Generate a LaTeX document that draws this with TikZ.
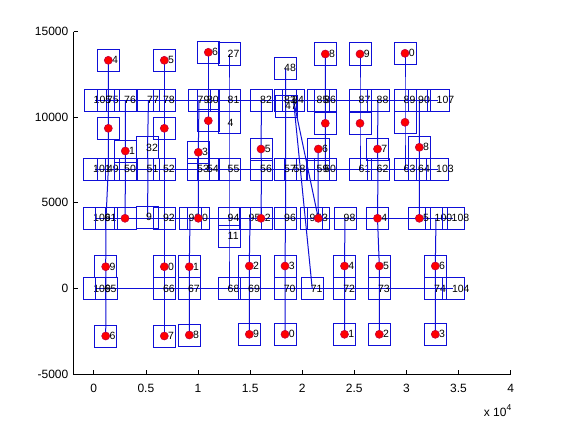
\documentclass[tikz,border=0pt]{standalone}
\usepackage{fontspec}
\setmainfont{Liberation Sans}
\usetikzlibrary{calc}
\pgfdeclarelayer{bg}
\pgfdeclarelayer{paper}
\pgfsetlayers{paper,bg,main}
\definecolor{mb}{RGB}{15,15,215}
\tikzset{
  bx/.style={draw=mb, line width=1pt, minimum width=22pt, minimum height=22pt, inner sep=0pt, outer sep=0pt},
  lab/.style={anchor=west, inner sep=0pt, font=\fontsize{10.5}{10.5}\selectfont},
  dotst/.style={circle, fill=red, draw=red!75!blue, line width=0.6pt, minimum size=8pt, inner sep=0pt},
  lnk/.style={draw=mb, line width=1pt},
  axl/.style={draw=black, line width=0.7pt},
  tk/.style={font=\fontsize{12}{12}\selectfont, inner sep=0pt}
}
\newcommand\RowN[4]{\node[bx] (#1) at (#2,#3) {}; \node[lab] (#1t) at (#2-1.5,#3) {#4};}
\newcommand\DotN[4]{\node[bx] (#1) at (#2,#3) {}; \node[lab] (#1t) at (#2+3.6,#3) {#4};}
\begin{document}
\begin{tikzpicture}[x=1pt,y=-1pt]
\begin{pgfonlayer}{paper}
\fill[white] (0,0) rectangle (561,420);
\end{pgfonlayer}
\useasboundingbox (0,0) rectangle (561,420);
% ---------- axes ----------
\draw[axl] (73.5,31.6) -- (73.5,374) -- (510.7,374);
\foreach \yy/\t [count=\i] in {31.6/15000,117.2/10000,202.8/5000,288.4/0,374/-5000}{
  \draw[axl] (73.5,\yy) -- (77.8,\yy);
  \node[tk,anchor=east] (yt\i) at (68.5,\yy) {\t};
}
\foreach \i/\t in {0/0,1/0.5,2/1,3/1.5,4/2,5/2.5,6/3,7/3.5,8/4}{
  \draw[axl] (93.8+52.1*\i,374) -- (93.8+52.1*\i,369.7);
  \node[tk] (xt\i) at (93.8+52.1*\i,388.5) {\t};
}
\node[tk,anchor=east] (xmul) at (511.5,411) {x 10\raisebox{6pt}{\fontsize{8.5}{8.5}\selectfont 4}};
% ---------- row 1 ----------
\RowN{n105}{95}{100.2}{105}
\RowN{n75}{108.3}{100.2}{75}
\RowN{n76}{125.5}{100.2}{76}
\RowN{n77}{148.5}{100.2}{77}
\RowN{n78}{164.3}{100.2}{78}
\RowN{n79}{199}{100.2}{79}
\RowN{n80}{208.3}{100.2}{80}
\RowN{n81}{229}{100.2}{81}
\RowN{n82}{261.5}{100.2}{82}
\RowN{n83}{285.5}{100.2}{83}
\RowN{n84}{293.5}{100.2}{84}
\RowN{n85}{318}{100.2}{85}
\RowN{n86}{325.5}{100.2}{86}
\RowN{n87}{360}{100.2}{87}
\RowN{n88}{378}{100.2}{88}
\RowN{n89}{405}{100.2}{89}
\RowN{n90}{419.5}{100.2}{90}
\RowN{n107}{438}{100.2}{107}
% ---------- row 2 ----------
\RowN{n101}{94.5}{169.2}{101}
\RowN{n49}{108.3}{169.2}{49}
\RowN{n50}{125.5}{169.2}{50}
\RowN{n51}{148}{169.2}{51}
\RowN{n52}{164.3}{169.2}{52}
\RowN{n53}{198.5}{169.2}{53}
\RowN{n54}{208.3}{169.2}{54}
\RowN{n55}{229}{169.2}{55}
\RowN{n56}{261.5}{169.2}{56}
\RowN{n57}{285.5}{169.2}{57}
\RowN{n58}{295}{169.2}{58}
\RowN{n59}{318}{169.2}{59}
\RowN{n60}{325.5}{169.2}{60}
\RowN{n61}{360}{169.2}{61}
\RowN{n62}{378}{169.2}{62}
\RowN{n63}{405}{169.2}{63}
\RowN{n64}{419.5}{169.2}{64}
\RowN{n103}{437.5}{169.2}{103}
% ---------- row 3 ----------
\RowN{n106}{94.5}{218.3}{106}
\RowN{n91}{106}{218.3}{91}
\RowN{n92}{164.3}{218.3}{92}
\RowN{n93}{190}{218.3}{93}
\RowN{n94}{229}{218.3}{94}
\RowN{n95}{250}{218.3}{95}
\RowN{n96}{285.5}{218.3}{96}
\RowN{n97}{311}{218.3}{97}
\RowN{n98}{345}{218.3}{98}
\RowN{n100}{436}{218.3}{100}
\RowN{n108}{453}{218.3}{108}
\DotN{d3a}{125}{218.3}{}
\DotN{d3b}{198.3}{218.3}{0}
\DotN{d3c}{261}{218.3}{2}
\DotN{d3d}{318.3}{218.3}{3}
\DotN{d3e}{377.5}{218.3}{4}
\DotN{d3f}{419.3}{218.3}{5}
% ---------- row 4 ----------
\RowN{n109}{94.7}{288.4}{109}
\RowN{n65}{106}{288.4}{65}
\RowN{n66}{164.3}{288.4}{66}
\RowN{n67}{189.3}{288.4}{67}
\RowN{n68}{229}{288.4}{68}
\RowN{n69}{249.5}{288.4}{69}
\RowN{n70}{285.2}{288.4}{70}
\RowN{n71}{312.2}{288.4}{71}
\RowN{n72}{344.7}{288.4}{72}
\RowN{n73}{379.3}{288.4}{73}
\RowN{n74}{435.5}{288.4}{74}
\RowN{n104}{453.3}{288.4}{104}
% ---------- plain numbered boxes ----------
\RowN{k27}{229}{54}{27}
\RowN{k48}{285.5}{68.3}{48}
\RowN{k47}{286.5}{106.2}{47}
\RowN{k4}{229}{122.5}{4}
\RowN{k32}{147.5}{147.8}{32}
\RowN{k9}{147.5}{217}{9}
\RowN{k11}{229}{236}{11}
% ---------- dot nodes ----------
\DotN{t1}{108.3}{60.3}{4}
\DotN{t2}{164.3}{60.3}{5}
\DotN{t3}{208.3}{52.3}{6}
\DotN{t4}{325.3}{54}{8}
\DotN{t5}{360}{54}{9}
\DotN{t6}{405}{53.3}{0}
\DotN{u1}{108.3}{128.3}{}
\DotN{u2}{164.3}{128.3}{}
\DotN{u3}{208.3}{120.7}{}
\DotN{u4}{325.3}{123.3}{}
\DotN{u5}{360}{123.3}{}
\DotN{u6}{405}{122.3}{}
\DotN{m1}{125.3}{151}{1}
\DotN{m2}{198.3}{152.3}{3}
\DotN{m3}{261}{149}{5}
\DotN{m4}{318.3}{149}{6}
\DotN{m5}{377.5}{149}{7}
\DotN{m6}{419.3}{147.3}{8}
\DotN{l1}{105.7}{266.7}{9}
\DotN{l2}{164.3}{266.7}{0}
\DotN{l3}{189.3}{266.7}{1}
\DotN{l4}{249.3}{266}{2}
\DotN{l5}{285}{266}{3}
\DotN{l6}{344.5}{266}{4}
\DotN{l7}{379.3}{266}{5}
\DotN{l8}{435.3}{266}{6}
\DotN{b1}{105.7}{336}{6}
\DotN{b2}{164.3}{336}{7}
\DotN{b3}{189.3}{335}{8}
\DotN{b4}{249.3}{334.3}{9}
\DotN{b5}{285}{334.3}{0}
\DotN{b6}{344.5}{334.3}{1}
\DotN{b7}{379.3}{334.3}{2}
\DotN{b8}{435.3}{334.3}{3}
% ---------- connectors ----------
\begin{pgfonlayer}{bg}
\draw[lnk] (n105.center) -- (n107.center);
\draw[lnk] (n101.center) -- (n103.center);
\draw[lnk] (n106.center) -- (n108.center);
\draw[lnk] (n109.center) -- (n104.center);
\draw[lnk] (t1.center) -- (n75.center) -- (u1.center) -- (n49.center) -- (n91.center) -- (l1.center) -- (n65.center) -- (b1.center);
\draw[lnk] (n76.center) -- (m1.center) -- (n50.center) -- (d3a.center);
\draw[lnk] (n77.center) -- (k32.center) -- (n51.center) -- (k9.center);
\draw[lnk] (t2.center) -- (n78.center) -- (u2.center) -- (n52.center) -- (n92.center) -- (l2.center) -- (n66.center) -- (b2.center);
\draw[lnk] (n79.center) -- (m2.center) -- (n53.center) -- (d3b.center);
\draw[lnk] (t3.center) -- (n80.center) -- (u3.center) -- (n54.center);
\draw[lnk] (n93.center) -- (l3.center) -- (n67.center) -- (b3.center);
\draw[lnk] (k27.center) -- (n81.center) -- (k4.center) -- (n55.center) -- (n94.center) -- (k11.center) -- (n68.center);
\draw[lnk] (n82.center) -- (m3.center) -- (n56.center) -- (d3c.center);
\draw[lnk] (n95.center) -- (l4.center) -- (n69.center) -- (b4.center);
\draw[lnk] (k48.center) -- (n83.center) -- (n57.center) -- (n96.center) -- (l5.center) -- (n70.center) -- (b5.center);
\draw[lnk] (n84.center) -- (d3d.center);
\draw[lnk] (n84.center) -- (n71.center);
\draw[lnk] (m4.center) -- (n59.center) -- (d3d.center);
\draw[lnk] (t4.center) -- (n86.center) -- (u4.center) -- (n60.center);
\draw[lnk] (n98.center) -- (l6.center) -- (n72.center) -- (b6.center);
\draw[lnk] (t5.center) -- (n87.center) -- (u5.center) -- (n61.center);
\draw[lnk] (n88.center) -- (m5.center) -- (n62.center) -- (d3e.center) -- (l7.center) -- (n73.center) -- (b7.center);
\draw[lnk] (t6.center) -- (n89.center) -- (u6.center) -- (n63.center);
\draw[lnk] (n90.center) -- (m6.center) -- (n64.center) -- (d3f.center);
\draw[lnk] (n100.center) -- (l8.center) -- (n74.center) -- (b8.center);
\end{pgfonlayer}
% ---------- red markers on top ----------
\foreach \d in {d3a,d3b,d3c,d3d,d3e,d3f,t1,t2,t3,t4,t5,t6,u1,u2,u3,u4,u5,u6,m1,m2,m3,m4,m5,m6,l1,l2,l3,l4,l5,l6,l7,l8,b1,b2,b3,b4,b5,b6,b7,b8}{
  \node[dotst] (\d m) at (\d.center) {};
}
\end{tikzpicture}
\end{document}
